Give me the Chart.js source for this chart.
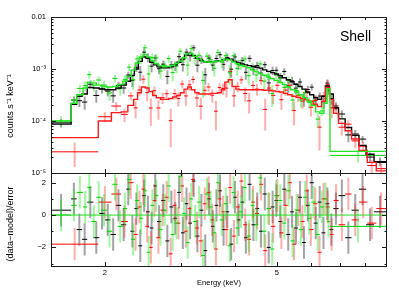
<!DOCTYPE html>
<html>
<head>
<meta charset="utf-8">
<script src="https://cdn.jsdelivr.net/npm/chart.js@4.4.1/dist/chart.umd.min.js"></script>
<style>
html, body { margin: 0; padding: 0; background: #fff; }
#wrap { position: relative; width: 399px; height: 299px; }
#wrap canvas { position: absolute; left: 0; top: 0; }
</style>
</head>
<body>
<div id="wrap">
  <canvas id="spec" width="399" height="299"></canvas>
  <canvas id="resid" width="399" height="299"></canvas>
</div>
<script>
// bin edges (keV), folded model per bin (counts s-1 keV-1), residuals (data-model)/error
const blackEdges = [1.50,1.67,1.72,1.77,1.82,1.88,1.94,2.00,2.06,2.12,2.18,2.24,2.29,2.34,2.39,2.44,2.49,2.54,2.59,2.64,2.70,2.76,2.82,2.88,2.94,3.00,3.06,3.12,3.18,3.24,3.31,3.38,3.45,3.52,3.59,3.66,3.73,3.80,3.88,3.96,4.04,4.12,4.20,4.28,4.37,4.46,4.55,4.64,4.74,4.84,4.94,5.04,5.15,5.26,5.37,5.48,5.60,5.72,5.84,5.96,6.09,6.22,6.35,6.48,6.62,6.76,6.95,7.20,7.45,7.75,8.05,8.40,8.95];
const blackModel = [8.7e-5,2.1e-4,3.0e-4,3.3e-4,4.4e-4,4.3e-4,4.1e-4,4.0e-4,4.0e-4,4.3e-4,4.9e-4,5.8e-4,7.5e-4,1.0e-3,1.4e-3,1.7e-3,1.6e-3,1.35e-3,1.2e-3,1.1e-3,1.05e-3,1.06e-3,1.1e-3,1.2e-3,1.35e-3,1.55e-3,1.85e-3,2.0e-3,1.8e-3,1.6e-3,1.45e-3,1.38e-3,1.35e-3,1.38e-3,1.42e-3,1.45e-3,1.5e-3,1.6e-3,1.55e-3,1.4e-3,1.3e-3,1.25e-3,1.2e-3,1.16e-3,1.12e-3,1.08e-3,1.04e-3,9.6e-4,9.0e-4,8.5e-4,8.0e-4,7.4e-4,6.8e-4,6.2e-4,5.7e-4,5.1e-4,4.6e-4,4.1e-4,3.6e-4,3.2e-4,2.8e-4,2.6e-4,3.0e-4,4.7e-4,3.3e-4,1.8e-4,1.1e-4,7.5e-5,5.3e-5,3.4e-5,2.3e-5,1.6e-5];
const blackResid = [0.3,1.0,-0.9,-1.5,0.8,-1.4,0.1,-0.3,-1.2,0.6,-0.6,1.6,-1.0,0.4,-1.9,1.2,0.2,-0.8,1.8,-0.4,0.9,-1.6,0.5,-0.2,1.4,-1.1,0.7,-0.5,2.1,-1.3,0.3,-2.2,1.0,-0.7,0.6,1.5,-0.9,0.2,-1.8,1.1,-0.3,0.8,-1.4,1.9,-0.6,0.4,-1.0,1.3,-2.0,0.5,0.9,-0.4,1.6,-1.2,0.2,-0.8,1.1,-1.7,0.6,2.0,-0.5,0.8,-1.1,0.7,-0.9,0.4,1.2,-1.4,0.3,1.6,-0.6,0.2];

const redEdges = [1.50,1.93,2.07,2.18,2.26,2.33,2.38,2.43,2.48,2.53,2.58,2.63,2.69,2.75,2.81,2.87,2.93,2.99,3.05,3.11,3.17,3.23,3.30,3.37,3.44,3.51,3.58,3.65,3.72,3.79,3.86,3.94,4.02,4.10,4.18,4.27,4.36,4.45,4.55,4.65,4.75,4.85,4.96,5.07,5.18,5.30,5.42,5.54,5.67,5.80,5.93,6.07,6.21,6.35,6.49,6.63,6.77,6.95,7.20,7.45,7.75,8.10,8.50,8.95];
const redModel = [4.8e-5,1.0e-4,1.45e-4,1.5e-4,2.0e-4,2.6e-4,3.5e-4,4.5e-4,4.3e-4,3.7e-4,3.1e-4,2.8e-4,2.6e-4,2.6e-4,2.7e-4,2.9e-4,3.1e-4,3.5e-4,4.1e-4,4.5e-4,4.0e-4,3.5e-4,3.3e-4,3.3e-4,3.3e-4,3.4e-4,3.4e-4,3.5e-4,4.0e-4,5.6e-4,6.2e-4,4.6e-4,4.1e-4,4.0e-4,4.0e-4,4.0e-4,4.0e-4,4.0e-4,4.0e-4,3.9e-4,3.9e-4,3.8e-4,3.7e-4,3.6e-4,3.4e-4,3.2e-4,3.0e-4,2.85e-4,2.7e-4,2.55e-4,2.4e-4,2.1e-4,1.9e-4,2.4e-4,4.4e-4,2.6e-4,1.4e-4,9.0e-5,6.5e-5,4.5e-5,2.7e-5,1.6e-5,1.1e-5];
const redResid = [-1.8,0.8,1.3,-0.4,2.0,-1.2,0.5,1.6,-0.7,-2.0,0.9,-1.4,0.3,1.1,-2.4,0.6,-0.5,1.8,-1.0,0.4,2.2,-0.8,-1.6,0.7,1.4,-0.3,-2.1,1.0,0.2,-0.9,1.7,-1.3,0.5,2.1,-0.6,-1.5,0.8,0.1,1.9,-2.2,0.4,-0.7,1.2,-1.1,0.6,2.0,-1.8,0.3,-0.4,1.5,-0.9,0.7,-2.3,1.0,0.5,-1.2,0.9,-0.6,1.3,-0.3,0.8,-0.5,0.4];

const greenEdges = [1.50,1.67,1.72,1.78,1.82,1.86,1.91,1.96,2.02,2.08,2.14,2.20,2.25,2.30,2.35,2.40,2.45,2.50,2.55,2.60,2.66,2.72,2.78,2.84,2.90,2.96,3.02,3.08,3.14,3.20,3.27,3.34,3.41,3.48,3.55,3.62,3.69,3.77,3.85,3.93,4.01,4.09,4.17,4.26,4.35,4.44,4.53,4.63,4.73,4.83,4.93,5.04,5.15,5.26,5.38,5.50,5.62,5.75,5.88,6.01,6.15,6.29,6.43,6.54,6.64,8.95];
const greenModel = [1.0e-4,2.2e-4,3.2e-4,4.3e-4,5.6e-4,5.4e-4,4.9e-4,4.6e-4,4.5e-4,4.6e-4,5.0e-4,5.8e-4,7.2e-4,9.5e-4,1.3e-3,1.7e-3,1.9e-3,1.7e-3,1.45e-3,1.28e-3,1.15e-3,1.1e-3,1.12e-3,1.18e-3,1.28e-3,1.42e-3,1.65e-3,1.95e-3,2.0e-3,1.75e-3,1.55e-3,1.42e-3,1.36e-3,1.35e-3,1.38e-3,1.42e-3,1.46e-3,1.55e-3,1.5e-3,1.36e-3,1.26e-3,1.18e-3,1.12e-3,1.06e-3,9.6e-4,8.9e-4,8.2e-4,7.6e-4,7.0e-4,6.5e-4,6.0e-4,5.5e-4,5.0e-4,4.5e-4,4.0e-4,3.6e-4,3.2e-4,2.8e-4,2.4e-4,2.0e-4,1.5e-4,1.4e-4,2.2e-4,4.2e-4,2.6e-5];
const greenResid = [0.0,0.6,1.4,0.5,1.7,-0.4,1.1,0.3,-1.0,1.9,-0.7,0.4,2.2,-1.5,0.9,-0.2,1.5,-2.3,0.6,1.2,-0.9,0.3,1.8,-1.2,-0.5,2.4,0.1,-1.7,1.0,-0.4,0.8,-2.5,1.3,0.5,-1.1,2.0,-0.3,0.7,-1.9,1.4,-0.8,0.2,1.7,-1.3,0.6,-0.6,2.3,-1.0,0.4,-2.1,1.2,0.9,-0.5,1.5,-1.6,0.3,-0.9,1.1,-0.2,0.8,-1.2,0.5,1.0,-0.4,-0.7];

// fractional 1-sigma errors
const blackErr = 0.2, redErr = 0.26, greenErr = 0.23;

const xTicks = [2, 5];
const specTicks = [1e-5, 1e-4, 1e-3, 0.01];
const specTickText = ['10⁻⁵', '10⁻⁴', '10⁻³', '0.01'];
const residTicks = [-2, 0, 2];
const residTickText = ['−2', '0', '2'];

const FONT = '"Liberation Sans", Arial, Helvetica, sans-serif';

function buildSeries(edges, model, resid, frac) {
    let s = { specH: [], specV: [], resH: [], resV: [], step: [] };
    model.forEach((m, i) => {
        let lo = edges[i], hi = edges[i + 1], c = Math.sqrt(lo * hi);
        let y = m * (1 + resid[i] * frac), e = m * frac;
        s.specH.push({x: lo, y: y}, {x: hi, y: y}, {x: hi, y: null});
        s.specV.push({x: c, y: Math.max(y - e, 1e-7)}, {x: c, y: y + e}, {x: c, y: null});
        s.resH.push({x: lo, y: resid[i]}, {x: hi, y: resid[i]}, {x: hi, y: null});
        s.resV.push({x: c, y: resid[i] - 1}, {x: c, y: resid[i] + 1}, {x: c, y: null});
        s.step.push({x: lo, y: m});
    });
    s.step.push({x: edges[edges.length - 1], y: model[model.length - 1]});
    return s;
}

const black = buildSeries(blackEdges, blackModel, blackResid, blackErr);
const red = buildSeries(redEdges, redModel, redResid, redErr);
const green = buildSeries(greenEdges, greenModel, greenResid, greenErr);

const look = {
    black: { dark: '#000000', light: 'rgba(0,0,0,0.36)', model: '#000000' },
    red: { dark: '#ff0000', light: 'rgba(255,30,30,0.36)', model: '#ff1a1a' },
    green: { dark: '#00d400', light: 'rgba(30,235,30,0.42)', model: '#22e622' }
};

function seg(data, color, width) {
    return { data: data, borderColor: color, borderWidth: width, pointRadius: 0, spanGaps: false, fill: false, tension: 0 };
}

// datasets listed bottom first, then "order" reversed so the last one is painted on top
function layered(list) {
    list.forEach((d, i) => { d.order = list.length - i; });
    return list;
}

const specSets = layered([
    seg(black.specV, look.black.light, 2), seg(black.specH, look.black.dark, 1),
    seg(red.specV, look.red.light, 2), seg(red.specH, look.red.dark, 1),
    seg(green.specV, look.green.light, 2), seg(green.specH, look.green.dark, 1),
    Object.assign(seg(black.step, look.black.model, 1.4), { stepped: true }),
    Object.assign(seg(red.step, look.red.model, 1.4), { stepped: true }),
    Object.assign(seg(green.step, look.green.model, 1.4), { stepped: true })
]);

const residSets = layered([
    seg(black.resV, look.black.light, 2), seg(black.resH, look.black.dark, 1),
    seg(red.resV, look.red.light, 2), seg(red.resH, look.red.dark, 1),
    seg(green.resV, look.green.light, 2), seg(green.resH, look.green.dark, 1),
    seg([{x: 1.5, y: 0}, {x: 9, y: 0}], '#22dd22', 1)
]);

function logMinors(lo, hi) {
    let out = [];
    for (let d = lo; d < hi * 0.99; d *= 10) {
        for (let k = 2; k <= 9; k++) out.push(d * k);
    }
    return out;
}

// frame with inward tick marks on all four sides
const frameTicks = {
    id: 'frameTicks',
    afterDatasetsDraw(chart, args, opts) {
        const ctx = chart.ctx, a = chart.chartArea, sx = chart.scales.x, sy = chart.scales.y;
        ctx.save();
        ctx.strokeStyle = '#1a1a1a';
        ctx.lineWidth = 1;
        ctx.beginPath();
        opts.x.forEach(t => {
            let px = Math.round(sx.getPixelForValue(t[0])) + 0.5;
            ctx.moveTo(px, a.top); ctx.lineTo(px, a.top + t[1]);
            ctx.moveTo(px, a.bottom); ctx.lineTo(px, a.bottom - t[1]);
        });
        opts.y.forEach(t => {
            let py = Math.round(sy.getPixelForValue(t[0])) + 0.5;
            ctx.moveTo(a.left, py); ctx.lineTo(a.left + t[1], py);
            ctx.moveTo(a.right, py); ctx.lineTo(a.right - t[1], py);
        });
        ctx.stroke();
        ctx.strokeRect(a.left + 0.5, a.top + 0.5, a.right - a.left - 1, a.bottom - a.top);
        (opts.texts || []).forEach(t => {
            ctx.save();
            ctx.font = t.size + 'px ' + FONT;
            ctx.fillStyle = '#000';
            ctx.textAlign = t.align || 'center';
            ctx.textBaseline = t.baseline || 'middle';
            ctx.translate(t.x, t.y);
            ctx.rotate(t.rot || 0);
            ctx.fillText(t.text, 0, 0);
            ctx.restore();
        });
        ctx.restore();
    }
};

const xTickMarks = [[2, 4], [3, 3], [4, 3], [5, 4], [6, 3], [7, 3], [8, 3]];

function baseOptions(pad) {
    return {
        responsive: false,
        animation: false,
        events: [],
        layout: { padding: pad },
        elements: { point: { radius: 0 }, line: { tension: 0 } },
        plugins: { legend: { display: false }, tooltip: { enabled: false } }
    };
}

function yAxis(type, min, max, vals, text) {
    return {
        type: type, min: min, max: max,
        afterFit: s => { s.width = 51; },
        afterBuildTicks: s => { s.ticks = vals.map(v => ({ value: v })); },
        ticks: { callback: (v, i) => text[i], color: '#000', padding: 5, autoSkip: false,
                 maxRotation: 0, font: { family: FONT, size: 7.5 } },
        grid: { display: false, drawTicks: false },
        border: { display: false }
    };
}

let specOpts = baseOptions({ top: 17, right: 12, bottom: 126, left: 0 });
specOpts.scales = {
    x: { type: 'logarithmic', min: 1.5, max: 9, display: false },
    y: yAxis('logarithmic', 1e-5, 0.01, specTicks, specTickText)
};
specOpts.plugins.frameTicks = {
    x: xTickMarks,
    y: specTicks.map(v => [v, 5]).concat(logMinors(1e-5, 1e-2).map(v => [v, 2.5])),
    texts: [
        { text: 'Shell', x: 340, y: 41, size: 14, align: 'left', baseline: 'alphabetic' },
        { text: 'counts s⁻¹ keV⁻¹', x: 11, y: 106, size: 9, rot: -Math.PI / 2 }
    ]
};

new Chart(document.getElementById('spec'), {
    type: 'line',
    data: { datasets: specSets },
    options: specOpts,
    plugins: [frameTicks]
});

let residOpts = baseOptions({ top: 173, right: 12, bottom: 0, left: 0 });
residOpts.scales = {
    x: {
        type: 'logarithmic', min: 1.5, max: 9,
        afterFit: s => { s.height = 33; },
        afterBuildTicks: s => { s.ticks = xTicks.map(v => ({ value: v })); },
        ticks: { callback: v => String(v), color: '#000', padding: 2, autoSkip: false, maxRotation: 0,
                 font: { family: FONT, size: 7.5 } },
        grid: { display: false, drawTicks: false },
        border: { display: false },
        title: { display: true, text: 'Energy (keV)', color: '#000', font: { family: FONT, size: 7.5 },
                 padding: { top: 0, bottom: 12 } }
    },
    y: yAxis('linear', -3.15, 2.6, residTicks, residTickText)
};
residOpts.plugins.frameTicks = {
    x: xTickMarks,
    y: residTicks.map(v => [v, 5]).concat([-3, -1, 1].map(v => [v, 2.5])),
    texts: [
        { text: '(data−model)/error', x: 11, y: 224, size: 9, rot: -Math.PI / 2 }
    ]
};

new Chart(document.getElementById('resid'), {
    type: 'line',
    data: { datasets: residSets },
    options: residOpts,
    plugins: [frameTicks]
});
</script>
</body>
</html>
